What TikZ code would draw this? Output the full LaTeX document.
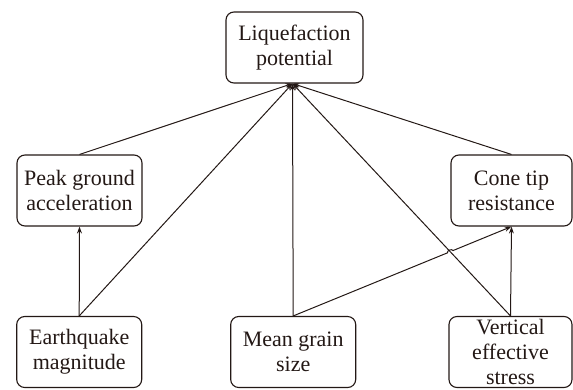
\documentclass[tikz,border=0pt]{standalone}
\usepackage{fontspec}
\setmainfont{Liberation Serif}
\usetikzlibrary{arrows.meta,calc}
\definecolor{ink}{RGB}{35,24,21}
\begin{document}
\begin{tikzpicture}[x=1pt,y=-1pt,
  box/.style={draw=ink, line width=1.1pt, rounded corners=8pt, align=center,
    minimum width=125pt, minimum height=71pt, inner sep=0pt,
    font=\fontsize{22}{25}\selectfont, text=ink},
  link/.style={draw=ink, line width=1pt},
  arr/.style={link, -{Stealth[length=7pt,width=5pt]}}]
\useasboundingbox (0,0) rectangle (573,389);
% factors and target
\node[box, minimum width=137pt] (lp) at (294.5,47.5) {Liquefaction\\potential};
\node[box] (pga) at (79.5,190.5) {Peak ground\\acceleration};
\node[box, minimum width=121pt] (ctr) at (511.5,190.5) {Cone tip\\resistance};
\node[box] (em) at (79.2,352) {Earthquake\\magnitude};
\node[box] (mgs) at (293.2,352) {Mean grain\\size};
\node[box, minimum width=123pt] (ves) at (510.5,352) {Vertical\\effective\\stress};
% all influences meet at the bottom of the target box
\coordinate (hub) at ($(lp.south)+(-2,0)$);
\draw[arr] (pga.north) -- (hub);
\draw[arr] (em.north) -- (hub);
\draw[arr] (mgs.north) -- (hub);
\draw[arr] (ves.north) -- (hub);
\draw[arr] (ctr.north) -- (hub);
% direct dependencies between factors
\draw[arr] (em.north) -- (pga.south);
\draw[arr] (ves.north) -- (ctr.south);
% line hop where grain size crosses the stress link
\coordinate (x) at (intersection of mgs.north--ctr.south and ves.north--hub);
\draw[arr] (mgs.north) -- ($(x)!3pt!(mgs.north)$) to[bend left=90] ($(x)!3pt!(ctr.south)$) -- (ctr.south);
\end{tikzpicture}
\end{document}
